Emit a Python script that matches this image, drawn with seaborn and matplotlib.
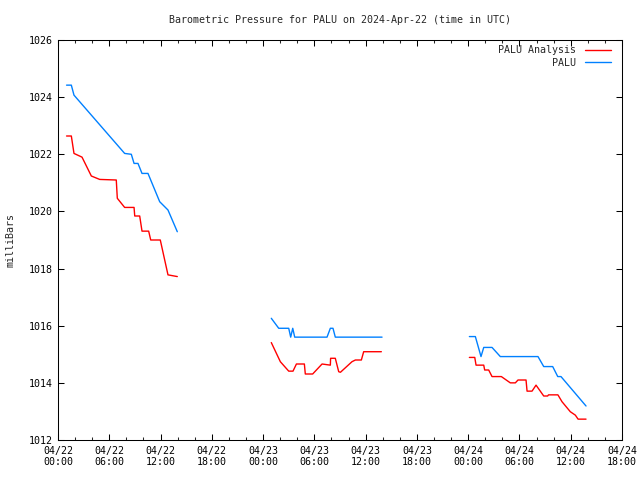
import matplotlib
matplotlib.use("Agg")
import matplotlib.pyplot as plt
import matplotlib.dates as mdates
import seaborn as sns
import pandas as pd
from matplotlib.lines import Line2D

# ---- data (hours after 2024-04-22 00:00 UTC, pressure in mb) ----
base_time = "2024-04-22 00:00"

analysis_seg1_h = [1.0, 1.56, 1.87, 2.81, 3.9, 4.88, 6.82, 6.94, 7.8, 8.9, 8.98, 9.56, 9.83, 10.61, 10.85, 11.97, 12.87, 13.96]
analysis_seg1_p = [1022.64, 1022.64, 1022.03, 1021.9, 1021.24, 1021.12, 1021.1, 1020.46, 1020.14, 1020.14, 1019.84, 1019.84, 1019.31, 1019.31, 1019.0, 1019.0, 1017.78, 1017.72]

analysis_seg2_h = [24.96, 26.02, 27.0, 27.5, 27.9, 28.83, 28.94, 29.8, 30.9, 31.87, 31.9, 32.45, 32.85, 33.05, 34.4, 34.8, 35.5, 35.77, 37.84]
analysis_seg2_p = [1015.41, 1014.74, 1014.41, 1014.41, 1014.66, 1014.66, 1014.31, 1014.31, 1014.66, 1014.62, 1014.86, 1014.86, 1014.39, 1014.37, 1014.74, 1014.8, 1014.8, 1015.09, 1015.09]

analysis_seg3_h = [48.14, 48.77, 48.92, 49.82, 49.93, 50.4, 50.79, 51.88, 52.93, 53.52, 53.83, 54.77, 54.89, 55.47, 55.94, 56.84, 57.3, 57.4, 58.5, 58.98, 59.95, 60.54, 60.86, 61.79]
analysis_seg3_p = [1014.89, 1014.89, 1014.62, 1014.62, 1014.45, 1014.45, 1014.22, 1014.22, 1014.0, 1014.0, 1014.1, 1014.1, 1013.71, 1013.71, 1013.92, 1013.54, 1013.54, 1013.58, 1013.58, 1013.34, 1012.99, 1012.87, 1012.73, 1012.73]

obs_seg1_h = [1.0, 1.56, 1.87, 7.8, 8.58, 8.9, 9.36, 9.83, 10.53, 11.9, 12.87, 13.96]
obs_seg1_p = [1024.42, 1024.42, 1024.07, 1022.03, 1022.0, 1021.68, 1021.68, 1021.33, 1021.33, 1020.34, 1020.05, 1019.29]

obs_seg2_h = [24.96, 25.83, 27.0, 27.23, 27.47, 27.7, 31.48, 31.87, 32.18, 32.45, 37.92]
obs_seg2_p = [1016.26, 1015.91, 1015.91, 1015.6, 1015.91, 1015.6, 1015.6, 1015.91, 1015.91, 1015.6, 1015.6]

obs_seg3_h = [48.14, 48.84, 49.5, 49.82, 50.79, 51.76, 56.17, 56.84, 57.89, 58.48, 58.86, 61.79]
obs_seg3_p = [1015.62, 1015.62, 1014.92, 1015.24, 1015.24, 1014.92, 1014.92, 1014.57, 1014.57, 1014.22, 1014.22, 1013.19]

series_names = ["PALU Analysis", "PALU"]
series_colors = ["#ff0000", "#0080ff"]

# ---- build table ----
t0 = pd.Timestamp(base_time)
rows = []
def add(name, seg, hrs, vals):
    for h, v in zip(hrs, vals):
        rows.append({"time": t0 + pd.Timedelta(hours=h), "pressure": v,
                     "series": name, "segment": f"{name}-{seg}"})

add("PALU Analysis", 1, analysis_seg1_h, analysis_seg1_p)
add("PALU Analysis", 2, analysis_seg2_h, analysis_seg2_p)
add("PALU Analysis", 3, analysis_seg3_h, analysis_seg3_p)
add("PALU", 1, obs_seg1_h, obs_seg1_p)
add("PALU", 2, obs_seg2_h, obs_seg2_p)
add("PALU", 3, obs_seg3_h, obs_seg3_p)
df = pd.DataFrame(rows)

# ---- style ----
sns.set_style("ticks")
plt.rcParams["font.family"] = ["DejaVu Sans Mono", "DejaVu Sans"]
FS = 7.2
plt.rcParams["font.size"] = FS

fig = plt.figure(figsize=(6.4, 4.8), dpi=100)
ax = fig.add_axes([58 / 640, 1 - 440 / 480, 564 / 640, 400 / 480])

palette = dict(zip(series_names, series_colors))
sns.lineplot(data=df, x="time", y="pressure", hue="series", hue_order=series_names,
             units="segment", estimator=None, sort=False, palette=palette,
             linewidth=1.0, ax=ax, legend=False)

ax.set_xlim(t0, t0 + pd.Timedelta(hours=66))
ax.set_ylim(1012, 1026)
ax.set_yticks(range(1012, 1027, 2))
ax.xaxis.set_major_locator(mdates.HourLocator(byhour=[0, 6, 12, 18]))
ax.xaxis.set_minor_locator(mdates.HourLocator(interval=2))
ax.xaxis.set_major_formatter(mdates.DateFormatter("%m/%d\n%H:%M"))

ax.tick_params(axis="both", which="major", direction="in", length=4.3, width=0.75,
               top=True, right=True, labelsize=FS, pad=4, colors="black")
ax.tick_params(axis="x", which="minor", direction="in", length=2.3, width=0.75,
               top=True, bottom=True)
for s in ax.spines.values():
    s.set_linewidth(0.75)
    s.set_color("black")
    s.set_visible(True)

ax.set_xlabel("")
ax.set_ylabel("milliBars", fontsize=FS, labelpad=9)
ax.set_title("Barometric Pressure for PALU on 2024-Apr-22 (time in UTC)", fontsize=FS, pad=12)

handles = [Line2D([], [], color=c, linewidth=1.0) for c in series_colors]
ax.legend(handles, series_names, loc="upper right", bbox_to_anchor=(0.99, 1.0),
          frameon=False, markerfirst=False,
          fontsize=FS, handlelength=2.6, handletextpad=0.9, labelspacing=0.25,
          borderaxespad=0.15)

fig.savefig("out.png", dpi=100)
